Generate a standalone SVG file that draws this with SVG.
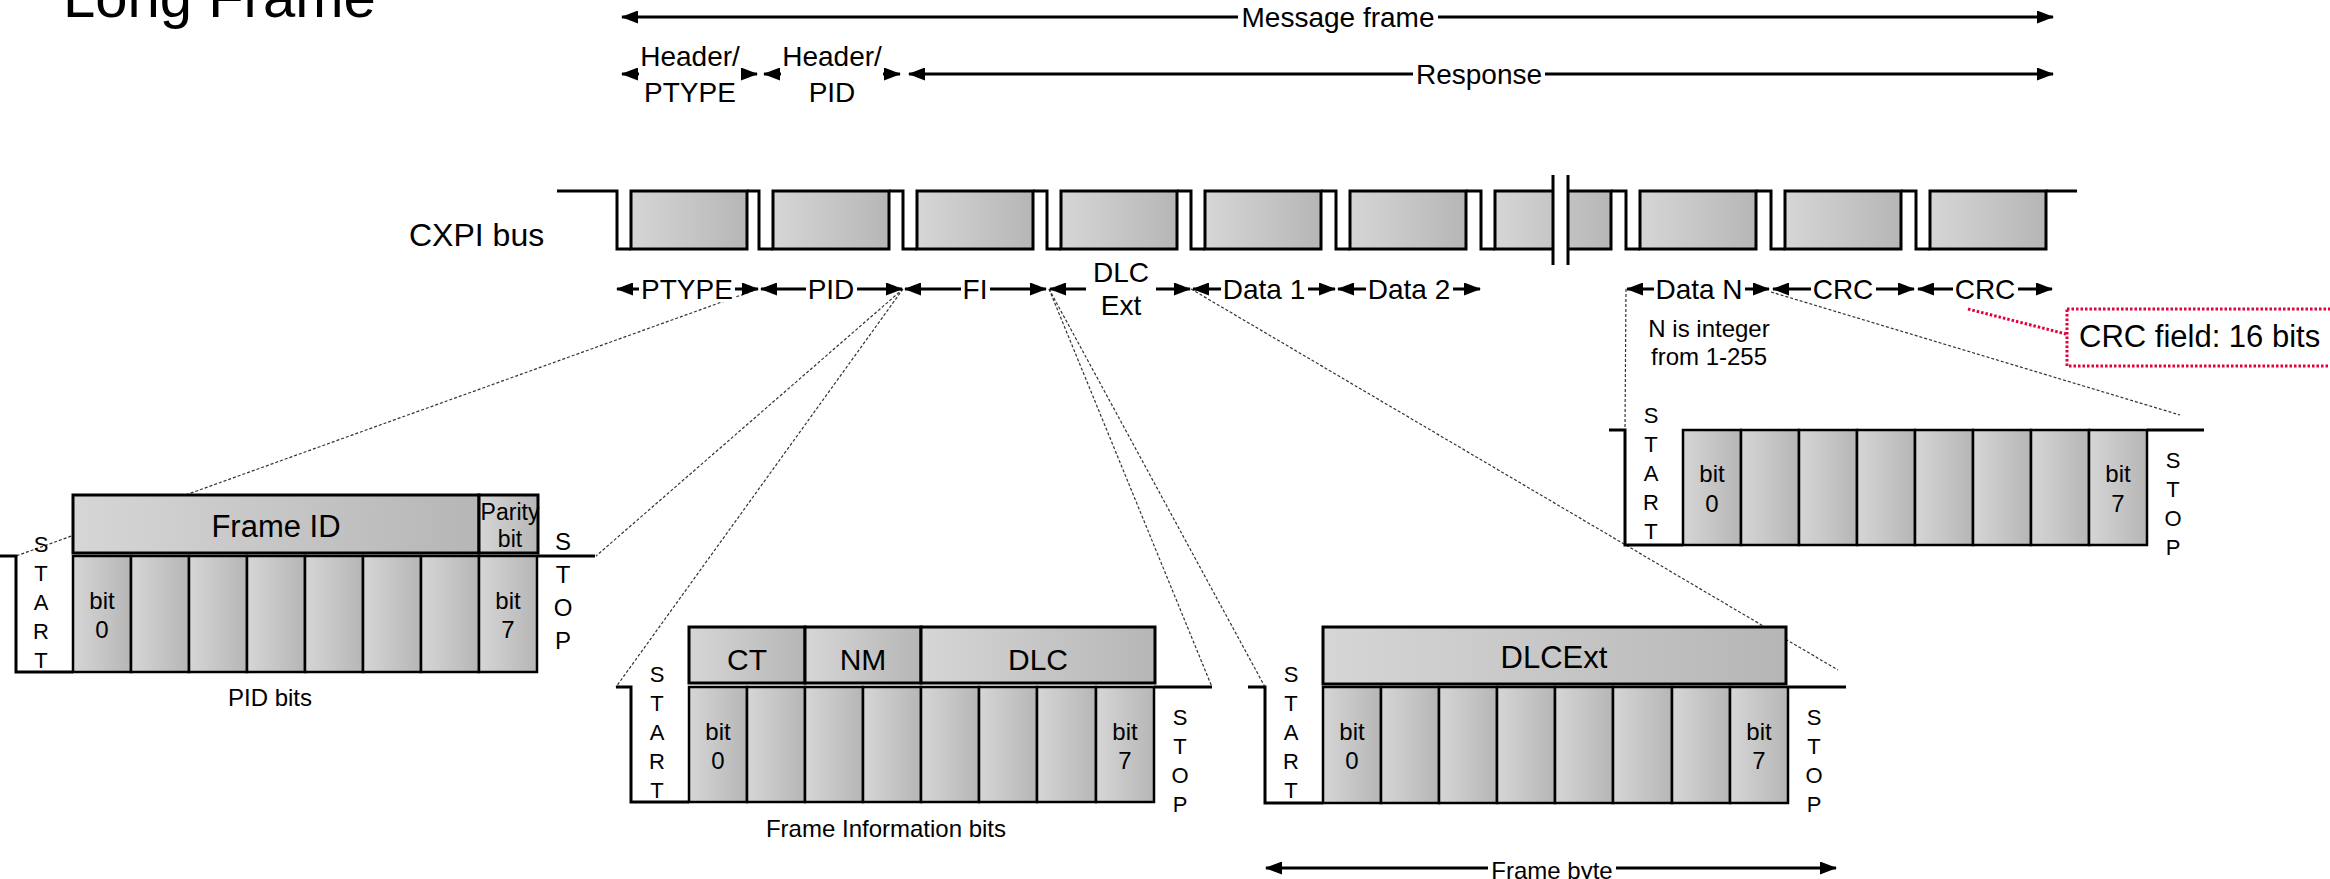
<svg xmlns="http://www.w3.org/2000/svg" width="2330" height="879" viewBox="0 0 2330 879">
  <defs>
    <linearGradient id="gf" x1="0" y1="0" x2="1" y2="0">
      <stop offset="0" stop-color="#d6d6d6"/>
      <stop offset="1" stop-color="#b6b6b6"/>
    </linearGradient>
    <marker id="ah" viewBox="0 0 17 13" refX="16" refY="6.5" markerWidth="17" markerHeight="13" markerUnits="userSpaceOnUse" orient="auto-start-reverse">
      <path d="M0,0 L17,6.5 L0,13 z" fill="#000"/>
    </marker>
    <style>
      text { font-family: "Liberation Sans", Arial, sans-serif; fill: #000; }
      .c { text-anchor: middle; }
      .f28 { font-size: 28px; }
      .f24 { font-size: 24px; }
      .f22 { font-size: 22px; }
      .f30 { font-size: 30px; }
      .wave { fill: none; stroke: #000; stroke-width: 3; }
      .box { fill: url(#gf); stroke: #000; stroke-width: 3; }
      .cell { fill: url(#gf); stroke: #000; stroke-width: 2.5; }
      .arr { stroke: #000; stroke-width: 3; marker-start: url(#ah); marker-end: url(#ah); }
      .bg { fill: #fff; }
      .dot { fill: none; stroke: #333; stroke-width: 1.2; stroke-dasharray: 3 2; }
      .red { fill: none; stroke: #e4003a; stroke-width: 3; stroke-dasharray: 2.5 2; }
    </style>
  </defs>

  <rect width="2330" height="879" fill="#fff"/>

  <!-- title -->
  <g id="title">
    <text x="63" y="17" style="font-size:58px">Long Frame</text>
  </g>

  <!-- message / header / response spans -->
  <g id="frame-spans">
    <line class="arr" x1="622" y1="17" x2="2053" y2="17"/>
    <rect class="bg" x="1238" y="4" width="200" height="26"/>
    <text class="c f28" x="1338" y="27">Message frame</text>

    <line class="arr" x1="622" y1="74" x2="757" y2="74"/>
    <rect class="bg" x="639" y="66" width="102" height="16"/>
    <text class="c f28" x="690" y="66">Header/</text>
    <text class="c f28" x="690" y="102">PTYPE</text>

    <line class="arr" x1="764" y1="74" x2="900" y2="74"/>
    <rect class="bg" x="781" y="66" width="102" height="16"/>
    <text class="c f28" x="832" y="66">Header/</text>
    <text class="c f28" x="832" y="102">PID</text>

    <line class="arr" x1="909" y1="74" x2="2053" y2="74"/>
    <rect class="bg" x="1413" y="60" width="132" height="28"/>
    <text class="c f28" x="1479" y="84">Response</text>
  </g>

  <!-- CXPI bus waveform -->
  <g id="cxpi-bus">
    <text x="409" y="246" style="font-size:32px">CXPI bus</text>
    <path class="wave" d="M557,191 H617 V249 H631 M747,191 H759 V249 H773 M889,191 H903 V249 H917 M1033,191 H1047 V249 H1061 M1177,191 H1191 V249 H1205 M1321,191 H1336 V249 H1350 M1466,191 H1481 V249 H1495 M1611,191 H1626 V249 H1640 M1756,191 H1771 V249 H1785 M1901,191 H1916 V249 H1930 M2046,191 H2077"/>
    <rect class="box" x="631" y="191" width="116" height="58"/>
    <rect class="box" x="773" y="191" width="116" height="58"/>
    <rect class="box" x="917" y="191" width="116" height="58"/>
    <rect class="box" x="1061" y="191" width="116" height="58"/>
    <rect class="box" x="1205" y="191" width="116" height="58"/>
    <rect class="box" x="1350" y="191" width="116" height="58"/>
    <rect class="box" x="1495" y="191" width="116" height="58"/>
    <rect class="box" x="1640" y="191" width="116" height="58"/>
    <rect class="box" x="1785" y="191" width="116" height="58"/>
    <rect class="box" x="1930" y="191" width="116" height="58"/>
    <!-- break mark -->
    <rect x="1554" y="186" width="13" height="68" fill="#fff"/>
    <line x1="1553" y1="175" x2="1553" y2="265" stroke="#000" stroke-width="3"/>
    <line x1="1568" y1="175" x2="1568" y2="265" stroke="#000" stroke-width="3"/>
  </g>

  <!-- dotted zoom lines -->
  <g id="connectors">
    <line class="dot" x1="758" y1="289" x2="16" y2="556"/>
    <line class="dot" x1="903" y1="289" x2="596" y2="556"/>
    <line class="dot" x1="903" y1="289" x2="616" y2="687"/>
    <line class="dot" x1="1049" y1="289" x2="1212" y2="687"/>
    <line class="dot" x1="1049" y1="289" x2="1265" y2="687"/>
    <line class="dot" x1="1191" y1="289" x2="1838" y2="670"/>
    <line class="dot" x1="1626" y1="289" x2="1625" y2="430"/>
    <line class="dot" x1="1771" y1="292" x2="2180" y2="415"/>
  </g>

  <!-- byte field spans -->
  <g id="byte-spans">
    <line class="arr" x1="617" y1="289" x2="758" y2="289"/>
    <rect class="bg" x="639" y="276" width="96" height="26"/>
    <text class="c f28" x="687" y="299">PTYPE</text>

    <line class="arr" x1="761" y1="289" x2="902" y2="289"/>
    <rect class="bg" x="806" y="276" width="51" height="26"/>
    <text class="c f28" x="831" y="299">PID</text>

    <line class="arr" x1="905" y1="289" x2="1046" y2="289"/>
    <rect class="bg" x="961" y="276" width="29" height="26"/>
    <text class="c f28" x="975" y="299">FI</text>

    <line class="arr" x1="1050" y1="289" x2="1190" y2="289"/>
    <rect class="bg" x="1086" y="282" width="70" height="14"/>
    <text class="c f28" x="1121" y="282">DLC</text>
    <text class="c f28" x="1121" y="315">Ext</text>

    <line class="arr" x1="1193" y1="289" x2="1335" y2="289"/>
    <rect class="bg" x="1221" y="276" width="87" height="26"/>
    <text class="c f28" x="1264" y="299">Data 1</text>

    <line class="arr" x1="1338" y1="289" x2="1480" y2="289"/>
    <rect class="bg" x="1366" y="276" width="87" height="26"/>
    <text class="c f28" x="1409" y="299">Data 2</text>

    <line class="arr" x1="1627" y1="289" x2="1769" y2="289"/>
    <rect class="bg" x="1654" y="276" width="91" height="26"/>
    <text class="c f28" x="1699" y="299">Data N</text>

    <line class="arr" x1="1773" y1="289" x2="1914" y2="289"/>
    <rect class="bg" x="1811" y="276" width="65" height="26"/>
    <text class="c f28" x="1843" y="299">CRC</text>

    <line class="arr" x1="1918" y1="289" x2="2052" y2="289"/>
    <rect class="bg" x="1953" y="276" width="65" height="26"/>
    <text class="c f28" x="1985" y="299">CRC</text>

    <text class="c f24" x="1709" y="337">N is integer</text>
    <text class="c f24" x="1709" y="365">from 1-255</text>
  </g>

  <!-- CRC annotation -->
  <g id="crc-note">
    <line class="red" x1="1968" y1="309" x2="2066" y2="334"/>
    <rect class="red" x="2067" y="309" width="300" height="57"/>
    <text x="2079" y="347" style="font-size:31px">CRC field: 16 bits</text>
  </g>

  <!-- PID byte -->
  <g id="pid-byte">
    <rect class="box" x="73" y="495" width="406" height="58"/>
    <rect class="box" x="479" y="495" width="59" height="58"/>
    <text class="c" x="276" y="537" style="font-size:31px">Frame ID</text>
    <text class="c" x="510" y="520" style="font-size:23px">Parity</text>
    <text class="c" x="510" y="547" style="font-size:23px">bit</text>
    <path class="wave" d="M0,556 H16 V672 H73 M537,556 H595"/>
    <rect class="cell" x="73" y="556" width="58" height="116"/>
    <rect class="cell" x="131" y="556" width="58" height="116"/>
    <rect class="cell" x="189" y="556" width="58" height="116"/>
    <rect class="cell" x="247" y="556" width="58" height="116"/>
    <rect class="cell" x="305" y="556" width="58" height="116"/>
    <rect class="cell" x="363" y="556" width="58" height="116"/>
    <rect class="cell" x="421" y="556" width="58" height="116"/>
    <rect class="cell" x="479" y="556" width="58" height="116"/>
    <text class="c f24" x="102" y="609">bit</text>
    <text class="c f24" x="102" y="638">0</text>
    <text class="c f24" x="508" y="609">bit</text>
    <text class="c f24" x="508" y="638">7</text>
    <text class="c f22" x="41" y="552">S</text>
    <text class="c f22" x="41" y="581">T</text>
    <text class="c f22" x="41" y="610">A</text>
    <text class="c f22" x="41" y="639">R</text>
    <text class="c f22" x="41" y="668">T</text>
    <text class="c f24" x="563" y="550">S</text>
    <text class="c f24" x="563" y="583">T</text>
    <text class="c f24" x="563" y="616">O</text>
    <text class="c f24" x="563" y="649">P</text>
    <text class="c f24" x="270" y="706">PID bits</text>
  </g>

  <!-- Frame information byte -->
  <g id="fi-byte">
    <rect class="box" x="689" y="627" width="116" height="56"/>
    <rect class="box" x="805" y="627" width="116" height="56"/>
    <rect class="box" x="921" y="627" width="234" height="56"/>
    <text class="c f30" x="747" y="670">CT</text>
    <text class="c f30" x="863" y="670">NM</text>
    <text class="c f30" x="1038" y="670">DLC</text>
    <path class="wave" d="M616,687 H631 V802 H689 M1154,687 H1212"/>
    <rect class="cell" x="689" y="687" width="58" height="115"/>
    <rect class="cell" x="747" y="687" width="58" height="115"/>
    <rect class="cell" x="805" y="687" width="58" height="115"/>
    <rect class="cell" x="863" y="687" width="58" height="115"/>
    <rect class="cell" x="921" y="687" width="58" height="115"/>
    <rect class="cell" x="979" y="687" width="58" height="115"/>
    <rect class="cell" x="1037" y="687" width="59" height="115"/>
    <rect class="cell" x="1096" y="687" width="58" height="115"/>
    <text class="c f24" x="718" y="740">bit</text>
    <text class="c f24" x="718" y="769">0</text>
    <text class="c f24" x="1125" y="740">bit</text>
    <text class="c f24" x="1125" y="769">7</text>
    <text class="c f22" x="657" y="682">S</text>
    <text class="c f22" x="657" y="711">T</text>
    <text class="c f22" x="657" y="740">A</text>
    <text class="c f22" x="657" y="769">R</text>
    <text class="c f22" x="657" y="798">T</text>
    <text class="c f22" x="1180" y="725">S</text>
    <text class="c f22" x="1180" y="754">T</text>
    <text class="c f22" x="1180" y="783">O</text>
    <text class="c f22" x="1180" y="812">P</text>
    <text class="c f24" x="886" y="837">Frame Information bits</text>
  </g>

  <!-- DLC extension byte -->
  <g id="dlcext-byte">
    <rect class="box" x="1323" y="627" width="463" height="57"/>
    <text class="c" x="1554" y="668" style="font-size:31px">DLCExt</text>
    <path class="wave" d="M1248,687 H1265 V803 H1323 M1788,687 H1846"/>
    <rect class="cell" x="1323" y="687" width="58" height="116"/>
    <rect class="cell" x="1381" y="687" width="58" height="116"/>
    <rect class="cell" x="1439" y="687" width="58" height="116"/>
    <rect class="cell" x="1497" y="687" width="58" height="116"/>
    <rect class="cell" x="1555" y="687" width="58" height="116"/>
    <rect class="cell" x="1613" y="687" width="59" height="116"/>
    <rect class="cell" x="1672" y="687" width="58" height="116"/>
    <rect class="cell" x="1730" y="687" width="58" height="116"/>
    <text class="c f24" x="1352" y="740">bit</text>
    <text class="c f24" x="1352" y="769">0</text>
    <text class="c f24" x="1759" y="740">bit</text>
    <text class="c f24" x="1759" y="769">7</text>
    <text class="c f22" x="1291" y="682">S</text>
    <text class="c f22" x="1291" y="711">T</text>
    <text class="c f22" x="1291" y="740">A</text>
    <text class="c f22" x="1291" y="769">R</text>
    <text class="c f22" x="1291" y="798">T</text>
    <text class="c f22" x="1814" y="725">S</text>
    <text class="c f22" x="1814" y="754">T</text>
    <text class="c f22" x="1814" y="783">O</text>
    <text class="c f22" x="1814" y="812">P</text>
    <line class="arr" x1="1266" y1="868" x2="1836" y2="868"/>
    <rect class="bg" x="1488" y="856" width="128" height="23"/>
    <text class="c f24" x="1552" y="879">Frame byte</text>
  </g>

  <!-- Data N byte -->
  <g id="datan-byte">
    <path class="wave" d="M1609,430 H1625 V545 H1683 M2147,430 H2204"/>
    <rect class="cell" x="1683" y="430" width="58" height="115"/>
    <rect class="cell" x="1741" y="430" width="58" height="115"/>
    <rect class="cell" x="1799" y="430" width="58" height="115"/>
    <rect class="cell" x="1857" y="430" width="58" height="115"/>
    <rect class="cell" x="1915" y="430" width="58" height="115"/>
    <rect class="cell" x="1973" y="430" width="58" height="115"/>
    <rect class="cell" x="2031" y="430" width="58" height="115"/>
    <rect class="cell" x="2089" y="430" width="58" height="115"/>
    <text class="c f24" x="1712" y="482">bit</text>
    <text class="c f24" x="1712" y="512">0</text>
    <text class="c f24" x="2118" y="482">bit</text>
    <text class="c f24" x="2118" y="512">7</text>
    <text class="c f22" x="1651" y="423">S</text>
    <text class="c f22" x="1651" y="452">T</text>
    <text class="c f22" x="1651" y="481">A</text>
    <text class="c f22" x="1651" y="510">R</text>
    <text class="c f22" x="1651" y="539">T</text>
    <text class="c f22" x="2173" y="468">S</text>
    <text class="c f22" x="2173" y="497">T</text>
    <text class="c f22" x="2173" y="526">O</text>
    <text class="c f22" x="2173" y="555">P</text>
  </g>
</svg>
